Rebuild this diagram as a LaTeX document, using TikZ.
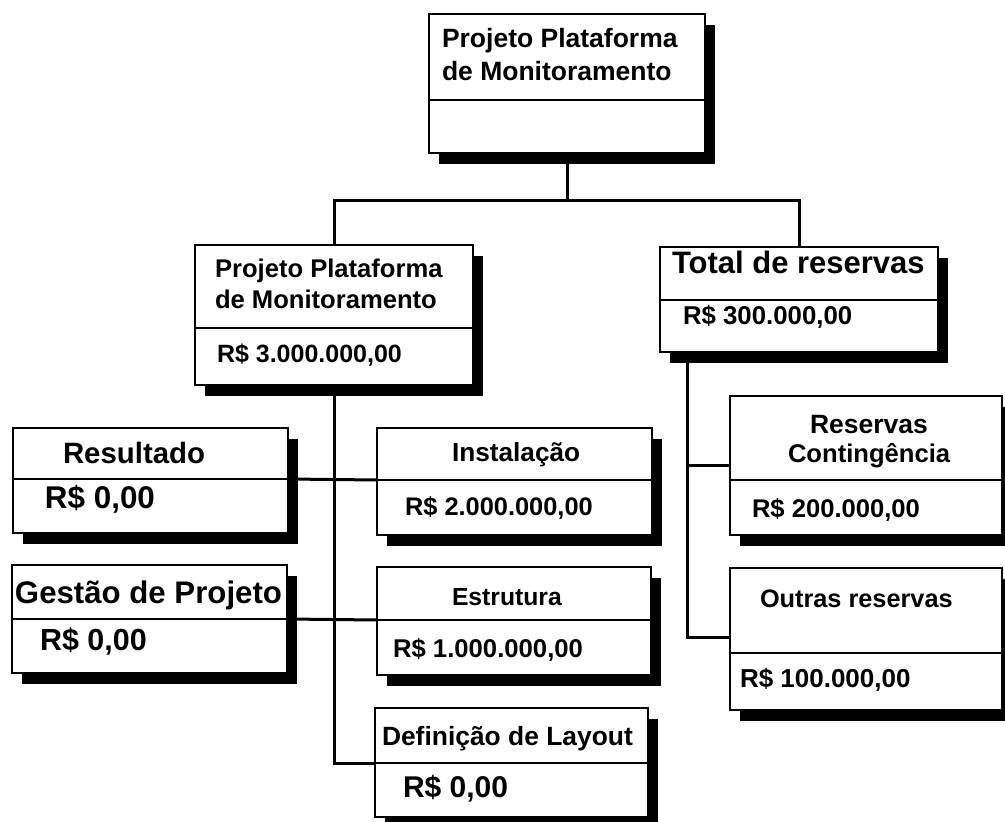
\documentclass[tikz,border=0pt]{standalone}
\usepackage{fontspec}
\setmainfont{Liberation Sans}
\usetikzlibrary{shadows,backgrounds}
\tikzset{
  part/.style={draw=black, line width=2.4pt, fill=white, rectangle, inner sep=0pt, outer sep=0pt, anchor=north west},
  shad/.style={drop shadow={shadow xshift=10pt, shadow yshift=-11pt, fill=black, opacity=1}},
  lbl/.style={anchor=base west, inner sep=0pt, outer sep=0pt},
  wire/.style={line width=3pt, draw=black},
}
\newcommand\fsz[1]{\bfseries\fontsize{#1}{#1}\selectfont}
\newcommand\wbsbox[6]{%
  \node[part, shad, minimum width=#4pt, minimum height=#5pt] (#1t) at (#2,#3) {};
  \node[part, shad, minimum width=#4pt, minimum height=#6pt] (#1v) at (#1t.south west) {};
}
\begin{document}
\begin{tikzpicture}[x=1pt, y=-1pt]
\useasboundingbox (0,0) rectangle (1005,822);
% boxes
\wbsbox{top}{429}{14}{276}{86}{53}
\wbsbox{mid}{195}{245}{278}{83}{57}
\wbsbox{tot}{660}{247}{278}{53}{52}
\wbsbox{res}{13}{428}{275}{51}{54}
\wbsbox{ins}{377}{428}{275}{52}{55}
\wbsbox{ges}{12}{565}{275}{54}{54}
\wbsbox{est}{377}{567}{274}{53}{55}
\wbsbox{def}{375}{708}{273}{55}{54}
\wbsbox{rco}{730}{396}{272}{84}{55}
\wbsbox{out}{730}{568}{272}{85}{57}
% texts
\node[lbl] (l1) at (442,47) {\fsz{26.5}Projeto Plataforma};
\node[lbl] (l2) at (442,80) {\fsz{26.5}de Monitoramento};
\node[lbl] (l3) at (215,277) {\fsz{25.6}Projeto Plataforma};
\node[lbl] (l4) at (215,308) {\fsz{25.6}de Monitoramento};
\node[lbl] (l5) at (217,362) {\fsz{25}R\$ 3.000.000,00};
\node[lbl] (l6) at (672,273) {\fsz{31}Total de reservas};
\node[lbl] (l7) at (683,324) {\fsz{25.8}R\$ 300.000,00};
\node[lbl] (l8) at (63,463) {\fsz{29.4}Resultado};
\node[lbl] (l9) at (45,508) {\fsz{31.4}R\$ 0,00};
\node[lbl] (l10) at (452,461) {\fsz{26.2}Instalação};
\node[lbl] (l11) at (405,515) {\fsz{25.4}R\$ 2.000.000,00};
\node[lbl] (l12) at (15,603) {\fsz{31.2}Gestão de Projeto};
\node[lbl] (l13) at (40,650) {\fsz{30.5}R\$ 0,00};
\node[lbl] (l14) at (452,605) {\fsz{24.7}Estrutura};
\node[lbl] (l15) at (393,657) {\fsz{25.7}R\$ 1.000.000,00};
\node[lbl] (l16) at (382,745) {\fsz{26.4}Definição de Layout};
\node[lbl] (l17) at (403,797) {\fsz{30}R\$ 0,00};
\node[lbl] (l18) at (810,433) {\fsz{26.5}Reservas};
\node[lbl] (l19) at (788,462) {\fsz{25.6}Contingência};
\node[lbl] (l20) at (752,517) {\fsz{25.6}R\$ 200.000,00};
\node[lbl] (l21) at (760,607) {\fsz{25.3}Outras reservas};
\node[lbl] (l22) at (740,687) {\fsz{26}R\$ 100.000,00};
% connectors
\coordinate (bus) at (0,200);
\coordinate (rv) at (687,0);
\coordinate (c1) at (730,465);
\coordinate (c2) at (730,637);
\begin{scope}[on background layer]
  \draw[wire] (topv.south) -- (topv.south |- bus);
  \draw[wire] (midt.north) -- (midt.north |- bus) -- (tott.north |- bus) -- (tott.north);
  \draw[wire] (midv.south) |- (deft.south west);
  \draw[wire] (rest.south east) -- (inst.south west);
  \draw[wire] (gest.south east) -- (estt.south west);
  \draw[wire] (totv.south -| rv) |- (c2);
  \draw[wire] (c1) -- (c1 -| rv);
\end{scope}
\end{tikzpicture}
\end{document}
